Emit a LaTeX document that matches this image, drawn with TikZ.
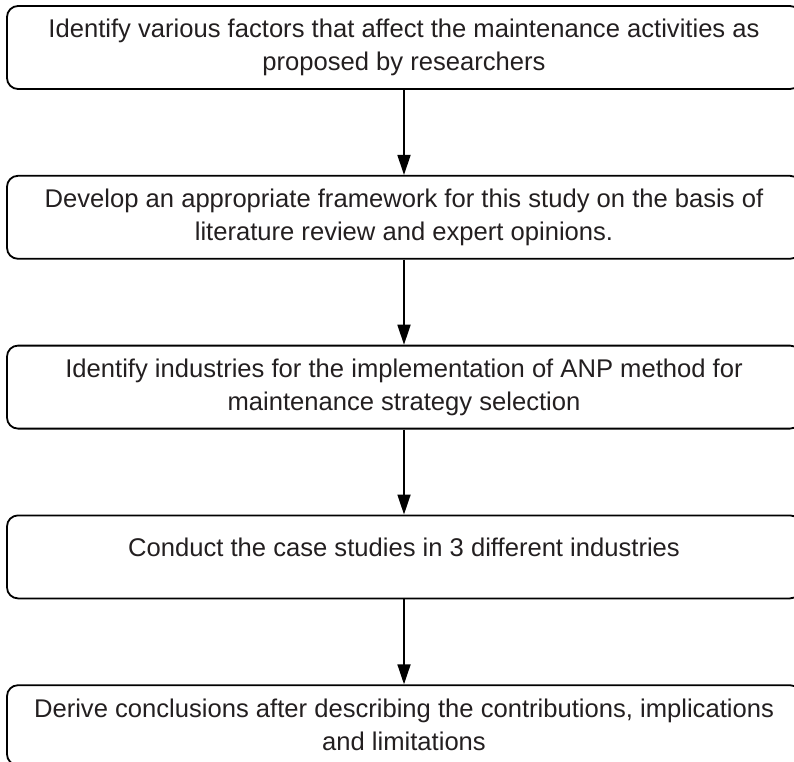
\documentclass[tikz,border=0pt]{standalone}
\usepackage{fontspec}
\setmainfont{Liberation Sans}
\usetikzlibrary{positioning,arrows.meta}
\definecolor{textgray}{HTML}{231F20}

\begin{document}
\begin{tikzpicture}[x=1pt,y=1pt,
    stepbox/.style={draw=black,line width=1.8pt,rounded corners=11pt,
      minimum width=794pt,minimum height=83pt,align=center,
      text=textgray,font=\fontsize{25.6}{33}\selectfont},
    flow/.style={line width=1.8pt,-{Triangle[length=20pt,width=13pt]}}]
        \useasboundingbox (0,0) rectangle (794,-761);
        \clip (0,0) rectangle (794,-761);

        % Draw boxes
        \node[stepbox] (factors) at (404,-47.5)
          {Identify various factors that affect the maintenance activities as\\proposed by researchers};
        \node[stepbox,below=85pt of factors] (framework)
          {Develop an appropriate framework for this study on the basis of\\literature review and expert opinions.};
        \node[stepbox,below=85pt of framework] (industries)
          {Identify industries for the implementation of ANP method for\\maintenance strategy selection};
        \node[stepbox,text depth=20pt,below=85pt of industries] (cases)
          {Conduct the case studies in 3 different industries};
        \node[stepbox,minimum height=80pt,below=85pt of cases] (conclusions)
          {Derive conclusions after describing the contributions, implications\\and limitations};

        % Draw arrows
        \draw[flow] (factors) -- (framework);
        \draw[flow] (framework) -- (industries);
        \draw[flow] (industries) -- (cases);
        \draw[flow] (cases) -- (conclusions);
    \end{tikzpicture}
\end{document}
